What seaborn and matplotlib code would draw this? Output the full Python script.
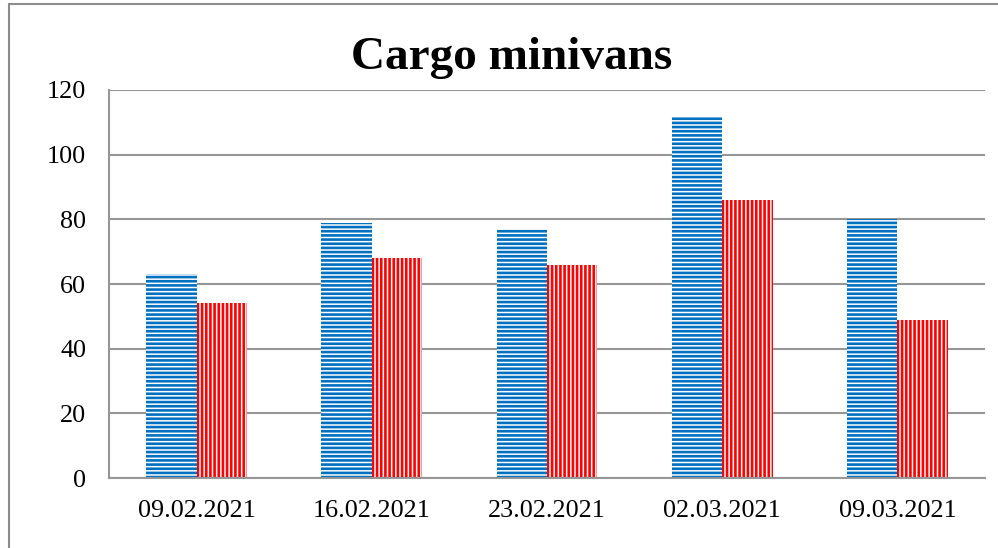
import matplotlib
matplotlib.use("Agg")
import matplotlib.pyplot as plt
import seaborn as sns
import pandas as pd
from matplotlib.lines import Line2D

####Chart data
dates = ["09.02.2021", "16.02.2021", "23.02.2021", "02.03.2021", "09.03.2021"]
series_a = [63, 79, 77, 112, 80]
series_b = [54, 68, 66, 86, 49]
yticks = [0, 20, 40, 60, 80, 100, 120]

blue = "#0070C0"
red = "#FF0000"
grid_gray = "#969696"

df = pd.DataFrame({
    "date": dates * 2,
    "value": series_a + series_b,
    "series": ["a"] * len(dates) + ["b"] * len(dates),
})

sns.set_style("white")
plt.rcParams["font.family"] = ["Liberation Serif", "DejaVu Serif"]
plt.rcParams["text.color"] = "black"
plt.rcParams["xtick.color"] = "black"
plt.rcParams["ytick.color"] = "black"
plt.rcParams["hatch.linewidth"] = 1.9

fig = plt.figure(figsize=(9.98, 5.48), dpi=100)
ax = fig.add_axes([0.1092, 0.1277, 0.8778, 0.7081])

sns.barplot(data=df, x="date", y="value", hue="series", order=dates,
            palette=[blue, red], saturation=1, width=0.575, gap=0,
            legend=False, ax=ax)

####Swap solid fills for striped ones
for bar in ax.patches:
    col = bar.get_facecolor()
    bar.set_facecolor("white")
    bar.set_edgecolor(col)
    bar.set_linewidth(0)
    if col[0] < 0.5:
        bar.set_hatch("----")
    else:
        bar.set_hatch("||||")

ax.set_ylim(0, 120)
ax.set_yticks(yticks)
ax.set_xlim(-0.5, len(dates) - 0.5)
ax.set_xlabel("")
ax.set_ylabel("")
ax.yaxis.grid(True, color=grid_gray, linewidth=1.5)
ax.set_axisbelow(True)
for s in ["top", "right"]:
    ax.spines[s].set_visible(False)
for s in ["left", "bottom"]:
    ax.spines[s].set_color(grid_gray)
    ax.spines[s].set_linewidth(1.5)
ax.tick_params(axis="y", length=0, pad=16.5, labelsize=18.8, labelcolor="black")
ax.tick_params(axis="x", length=0, pad=15.5, labelsize=18.8, labelcolor="black")

fig.text(512 / 998, 1 - 69 / 548, "Cargo minivans", ha="center", va="baseline",
         fontsize=34, fontweight="bold", color="black")

####Outer chart frame (only top and left edges show)
fig.add_artist(Line2D([8.5 / 998, 8.5 / 998], [0, 1 - 3.5 / 548], color="#8c8c8c", linewidth=1.5))
fig.add_artist(Line2D([8.5 / 998, 1], [1 - 3.5 / 548, 1 - 3.5 / 548], color="#8c8c8c", linewidth=1.5))

fig.savefig("out.png", dpi=100)
